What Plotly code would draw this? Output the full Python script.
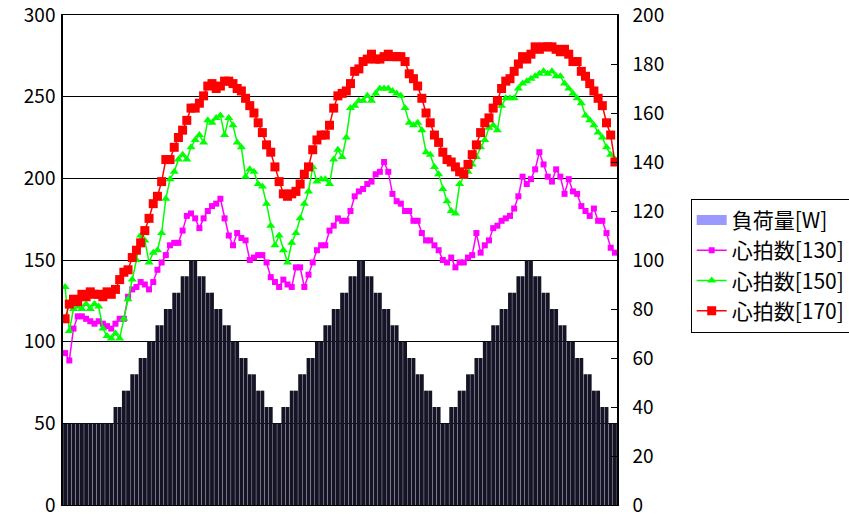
import plotly.graph_objects as go

# Sample index (one sample per 30 s)
samples = list(range(132))

# Workload [W], one value per sample
load_w = [
    50, 50, 50, 50, 50, 50, 50, 50, 50, 50, 50, 50,
    60, 60, 70, 70, 80, 80, 90, 90, 100, 100, 110, 110, 120, 120, 130, 130, 140, 140, 150, 150,
    140, 140, 130, 130, 120, 120, 110, 110, 100, 100, 90, 90, 80, 80, 70, 70, 60, 60, 50, 50,
    60, 60, 70, 70, 80, 80, 90, 90, 100, 100, 110, 110, 120, 120, 130, 130, 140, 140, 150, 150,
    140, 140, 130, 130, 120, 120, 110, 110, 100, 100, 90, 90, 80, 80, 70, 70, 60, 60, 50, 50,
    60, 60, 70, 70, 80, 80, 90, 90, 100, 100, 110, 110, 120, 120, 130, 130, 140, 140, 150, 150,
    140, 140, 130, 130, 120, 120, 110, 110, 100, 100, 90, 90, 80, 80, 70, 70, 60, 60, 50, 50,
]

# Heart rate [bpm] for target 130
hr_130 = [
    62, 59, 72, 77, 77, 76, 75, 74, 75, 74, 73, 72, 74, 76, 76, 85, 88, 89, 91, 90,
    88, 91, 96, 99, 102, 106, 107, 107, 112, 118, 119, 117, 113, 117, 120, 122, 123, 125, 117, 110,
    106, 111, 109, 108, 100, 101, 102, 102, 99, 93, 91, 89, 92, 90, 89, 97, 97, 89, 94, 99,
    104, 106, 106, 112, 114, 117, 116, 116, 120, 126, 128, 129, 131, 132, 135, 136, 140, 136, 127, 124,
    123, 120, 120, 116, 116, 111, 108, 108, 106, 104, 100, 99, 101, 97, 99, 99, 101, 102, 111, 103,
    106, 108, 113, 114, 116, 117, 118, 121, 126, 134, 131, 133, 137, 144, 139, 134, 132, 137, 134, 127,
    133, 128, 127, 122, 120, 118, 121, 116, 116, 111, 105, 103,
]

# Heart rate [bpm] for target 150
hr_150 = [
    89, 71, 80, 81, 80, 82, 80, 82, 81, 72, 69, 68, 70, 68, 76, 84, 92, 100, 110, 108,
    99, 103, 104, 111, 125, 133, 136, 141, 143, 141, 146, 149, 151, 148, 157, 156, 158, 159, 151, 158,
    155, 148, 146, 134, 137, 136, 131, 130, 123, 114, 106, 110, 104, 99, 107, 111, 117, 123, 128, 138,
    132, 133, 133, 131, 141, 145, 142, 150, 162, 163, 165, 165, 167, 165, 168, 170, 170, 170, 169, 168,
    167, 162, 156, 155, 156, 153, 144, 143, 138, 135, 129, 124, 120, 119, 131, 134, 136, 139, 142, 146,
    149, 154, 155, 153, 163, 166, 166, 166, 170, 172, 173, 174, 175, 176, 177, 176, 177, 175, 175, 172,
    170, 168, 166, 164, 159, 157, 155, 152, 150, 146, 143, 141,
]

# Heart rate [bpm] for target 170
hr_170 = [
    76, 82, 84, 83, 86, 85, 87, 86, 86, 85, 87, 86, 88, 92, 95, 96, 101, 104, 107, 112,
    117, 123, 126, 132, 141, 141, 146, 150, 153, 157, 162, 162, 164, 167, 171, 172, 170, 171, 173, 173,
    172, 170, 169, 166, 163, 160, 156, 152, 147, 144, 138, 132, 127, 126, 127, 128, 131, 135, 138, 145,
    149, 151, 151, 155, 162, 167, 168, 169, 172, 177, 178, 181, 182, 184, 182, 182, 183, 184, 183, 183,
    183, 181, 176, 174, 171, 166, 160, 156, 151, 148, 144, 141, 140, 138, 136, 135, 139, 143, 147, 152,
    156, 158, 162, 165, 170, 173, 174, 177, 180, 183, 182, 184, 187, 186, 187, 187, 187, 186, 185, 186,
    184, 181, 181, 177, 175, 172, 169, 166, 163, 156, 151, 140,
]

left_ticks = [0, 50, 100, 150, 200, 250, 300]
right_ticks = [0, 20, 40, 60, 80, 100, 120, 140, 160, 180, 200]

FONT = "Noto Sans CJK JP"

fig = go.Figure()

# Workload bars (dense, dark)
fig.add_trace(go.Bar(
    x=samples, y=load_w, yaxis="y",
    marker=dict(color="#151426", line=dict(width=0)),
    name="負荷量[W]", legendgroup="load", showlegend=False,
))
# Legend entry for the workload bars: wide periwinkle swatch
fig.add_trace(go.Scatter(
    x=[None], y=[None], yaxis="y", mode="lines",
    line=dict(color="#9999FF", width=10),
    name="負荷量[W]", legendgroup="load", showlegend=True,
))

fig.add_trace(go.Scatter(
    x=samples, y=hr_130, yaxis="y2", mode="lines+markers",
    line=dict(color="#FF00FF", width=1.5),
    marker=dict(symbol="square", size=6, color="#FF00FF"),
    name="心拍数[130]",
))
fig.add_trace(go.Scatter(
    x=samples, y=hr_150, yaxis="y2", mode="lines+markers",
    line=dict(color="#00FF00", width=1.5),
    marker=dict(symbol="triangle-up", size=8, color="#00FF00"),
    name="心拍数[150]",
))
fig.add_trace(go.Scatter(
    x=samples, y=hr_170, yaxis="y2", mode="lines+markers",
    line=dict(color="#FF0000", width=1.5),
    marker=dict(symbol="square", size=9, color="#FF0000"),
    name="心拍数[170]",
))

fig.update_layout(
    width=849, height=518,
    margin=dict(l=63, r=232, t=15, b=13, autoexpand=False),
    paper_bgcolor="white", plot_bgcolor="white",
    bargap=0.08,
    font=dict(family=FONT, size=19, color="#000000"),
    xaxis=dict(
        range=[-0.5, 131.5], showticklabels=False, ticks="",
        showgrid=False, zeroline=False, automargin=False,
        showline=True, linecolor="#000000", linewidth=1, mirror=True,
    ),
    yaxis=dict(
        range=[0, 300], tickvals=left_ticks, automargin=False,
        ticks="inside", ticklen=6, tickcolor="#000000",
        showgrid=True, gridcolor="#000000", gridwidth=1,
        zeroline=False, showline=True, linecolor="#000000", linewidth=1.5,
        tickfont=dict(family=FONT, size=19), ticklabeloverflow="allow",
        ticklabelstandoff=2,
    ),
    yaxis2=dict(
        range=[0, 200], tickvals=right_ticks, overlaying="y", side="right",
        ticks="inside", ticklen=6, tickcolor="#000000", automargin=False,
        showgrid=False, zeroline=False,
        showline=True, linecolor="#000000", linewidth=1.5,
        tickfont=dict(family=FONT, size=19), ticklabelstandoff=10,
        ticklabeloverflow="allow",
    ),
    legend=dict(
        x=1.133, y=0.625, xanchor="left", yanchor="top",
        bordercolor="#000000", borderwidth=1, bgcolor="white",
        font=dict(family=FONT, size=21), tracegroupgap=0,
        itemwidth=30,
    ),
    showlegend=True,
)

fig.write_html("out.html")
